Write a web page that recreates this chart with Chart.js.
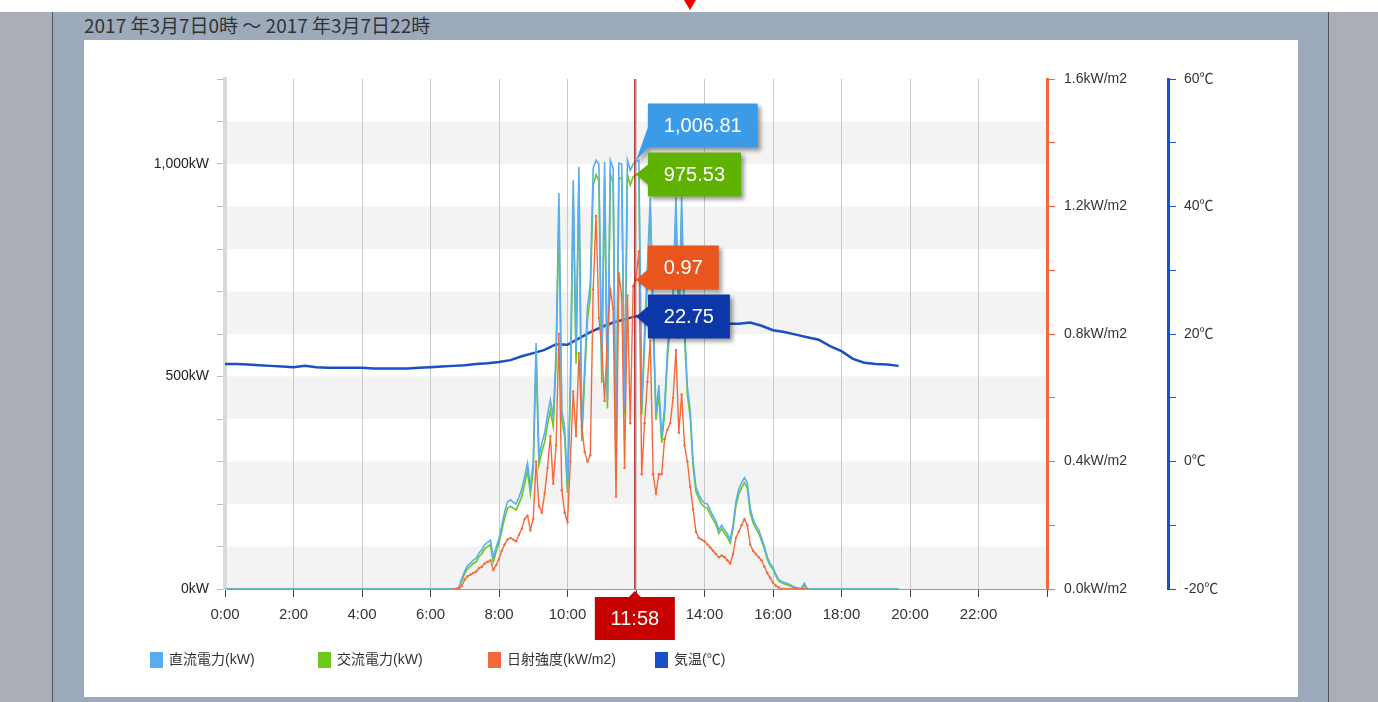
<!DOCTYPE html>
<html>
<head>
<meta charset="utf-8">
<script src="https://cdn.jsdelivr.net/npm/chart.js@4.4.0/dist/chart.umd.min.js"></script>
<style>
  body { margin: 0; width: 1378px; height: 702px; overflow: hidden; background: #fff; position: relative;
         font-family: "Liberation Sans", "Noto Sans CJK JP", sans-serif; }
  #sideL { position: absolute; left: 0; top: 12px; width: 52px; height: 690px; background: #a9aeb7; }
  #frame { position: absolute; left: 52px; top: 12px; width: 1275px; height: 690px; background: #9caabc;
           border-left: 1px solid #555; border-right: 1px solid #555; }
  #sideR { position: absolute; left: 1329px; top: 12px; width: 49px; height: 690px; background: #a9aeb7; }
  #title { position: absolute; left: 84px; top: 12px; height: 26px; line-height: 26px; font-size: 19px; color: #333;
           font-family: "Noto Sans CJK JP", sans-serif; }
  #panel { position: absolute; left: 84px; top: 40px; width: 1214px; height: 657px; background: #fff; }
  #marker { position: absolute; left: 684px; top: 0; width: 0; height: 0;
            border-left: 6px solid transparent; border-right: 6px solid transparent; border-top: 10px solid #e00; }
</style>
</head>
<body>
<div id="sideL"></div>
<div id="frame"></div>
<div id="sideR"></div>
<div id="marker"></div>
<div id="title">2017 年3月7日0時 ～ 2017 年3月7日22時</div>
<div id="panel"><canvas id="mainChart"></canvas></div>
<script>
// power + irradiance: every 5 minutes from 6:40 to 17:00, power is zero at night
const dayStart = "6:40";
const dayStepMin = 5;
const nightSpan = ["0:00", "19:40"];
const nightValue = 0;

const dcPower = [
  0, 0, 5, 25,
  42, 55, 60, 68, 72, 85, 92, 104, 110, 115, 73, 98,
  118, 150, 182, 205, 210, 204, 200, 216, 235, 265, 296, 240,
  300, 579, 311, 343, 367, 410, 445, 405, 560, 932, 420, 381,
  240, 480, 962, 560, 993, 367, 520, 663, 720, 990, 1009, 1000,
  508, 1005, 445, 1009, 990, 273, 1002, 1000, 428, 1009, 985, 1000,
  1006, 1009, 428, 600, 760, 922, 650, 414, 480, 358, 428, 560,
  650, 700, 922, 610, 922, 620, 475, 420, 300, 240, 222, 210,
  202, 200, 185, 172, 160, 139, 150, 139, 130, 115, 150, 205,
  235, 250, 262, 250, 190, 165, 150, 139, 120, 100, 75, 60,
  50, 35, 22, 18, 15, 13, 10, 6, 4, 1, 3, 14,
  0
];
const acPower = [
  0, 0, 3, 20,
  36, 48, 53, 60, 64, 76, 83, 94, 100, 104, 64, 88,
  108, 138, 168, 190, 195, 190, 186, 201, 219, 247, 278, 224,
  282, 545, 292, 323, 346, 387, 420, 382, 530, 880, 396, 360,
  226, 455, 925, 530, 960, 348, 495, 635, 690, 950, 975, 960,
  485, 970, 425, 976, 955, 262, 968, 965, 410, 976, 950, 970,
  975, 978, 410, 575, 730, 890, 625, 398, 460, 344, 410, 538,
  625, 675, 890, 588, 890, 598, 458, 404, 288, 230, 213, 200,
  193, 190, 176, 163, 152, 131, 142, 131, 122, 108, 142, 195,
  224, 238, 250, 238, 180, 156, 142, 131, 113, 94, 70, 55,
  46, 31, 19, 15, 12, 10, 7, 4, 2, 0, 1, 8,
  0
];
const irradiance = [
  0, 0, 0, 0.01,
  0.03, 0.04, 0.045, 0.05, 0.055, 0.065, 0.07, 0.08, 0.085, 0.09, 0.06, 0.075,
  0.095, 0.12, 0.14, 0.155, 0.16, 0.155, 0.15, 0.17, 0.19, 0.22, 0.23, 0.185,
  0.22, 0.40, 0.26, 0.24, 0.30, 0.38, 0.48, 0.33, 0.45, 0.80, 0.31, 0.24,
  0.21, 0.40, 0.62, 0.48, 0.74, 0.51, 0.43, 0.40, 0.42, 0.94, 1.17, 0.85,
  0.76, 0.59, 0.80, 0.94, 0.88, 0.29, 0.99, 0.92, 0.38, 0.92, 0.52, 0.95,
  0.97, 1.06, 0.36, 0.52, 0.65, 0.78, 0.36, 0.30, 0.36, 0.36, 0.47, 0.50,
  0.52, 0.60, 0.75, 0.49, 0.61, 0.45, 0.40, 0.32, 0.25, 0.18, 0.16, 0.155,
  0.15, 0.14, 0.13, 0.12, 0.11, 0.10, 0.105, 0.10, 0.09, 0.08, 0.11, 0.16,
  0.18, 0.20, 0.22, 0.20, 0.14, 0.12, 0.11, 0.10, 0.09, 0.07, 0.05, 0.035,
  0.02, 0.01, 0.005, 0, 0, 0, 0, 0, 0, 0, 0, 0,
  0
];

// temperature: every 20 minutes from 0:00 to 19:40
const tempStart = "0:00";
const tempStepMin = 20;
const temperature = [
  15.3, 15.3, 15.2, 15.1, 15.0, 14.9, 14.8, 15.0, 14.8, 14.7, 14.7, 14.7,
  14.7, 14.6, 14.6, 14.6, 14.6, 14.7, 14.8, 14.9, 15.0, 15.1, 15.3, 15.4,
  15.6, 15.9, 16.5, 17.0, 17.5, 18.4, 18.3, 19.3, 20.3, 21.1, 21.8, 22.3,
  22.8, 22.6, 22.4, 22.2, 22.0, 21.9, 21.8, 21.7, 21.6, 21.6, 21.8, 21.3,
  20.6, 20.3, 19.9, 19.5, 19.1, 18.1, 17.3, 16.1, 15.5, 15.3, 15.2, 15.0
];

const seriesNames = ["直流電力(kW)", "交流電力(kW)", "日射強度(kW/m2)", "気温(℃)"];
const seriesColors = ["#58aef0", "#6cc81a", "#f4693a", "#1b4fc4"];
const calloutColors = ["#3b9be6", "#5fb300", "#e9561d", "#0b37a8"];

const cursorTime = "11:58";
const cursorValues = [1006.81, 975.53, 0.97, 22.75];

function toHours(t) {
  const p = t.split(":").map(Number);
  return p[0] + p[1] / 60;
}

function daySeries(values, withNight) {
  const start = toHours(dayStart);
  const pts = values.map((v, i) => ({ x: start + i * dayStepMin / 60, y: v }));
  if (withNight) {
    pts.unshift({ x: toHours(nightSpan[0]), y: nightValue });
    pts.push({ x: toHours(nightSpan[1]), y: nightValue });
  }
  return pts;
}

const tempPoints = temperature.map((v, i) => ({ x: toHours(tempStart) + i * tempStepMin / 60, y: v }));

Chart.defaults.font.family = '"Liberation Sans", "Noto Sans CJK JP", sans-serif';
Chart.defaults.color = "#333";

const bands = {
  id: "bands",
  beforeDraw(chart) {
    const { ctx, chartArea, scales } = chart;
    ctx.save();
    ctx.fillStyle = "#f3f3f3";
    for (let v = 0; v < 1200; v += 200) {
      const top = scales.y.getPixelForValue(v + 100);
      const bot = scales.y.getPixelForValue(v);
      ctx.fillRect(chartArea.left, top, chartArea.width, bot - top);
    }
    ctx.restore();
  }
};

function fmt(v, i) {
  if (i < 2) return v.toLocaleString("en-US", { minimumFractionDigits: 2, maximumFractionDigits: 2 });
  return v.toFixed(2);
}

const cursor = {
  id: "cursor",
  afterDraw(chart) {
    const { ctx, chartArea, scales } = chart;
    const cx = scales.x.getPixelForValue(toHours(cursorTime));
    ctx.save();
    ctx.strokeStyle = "#b3262a";
    ctx.lineWidth = 1.5;
    ctx.beginPath();
    ctx.moveTo(cx, chartArea.top);
    ctx.lineTo(cx, chartArea.bottom);
    ctx.stroke();

    // time box under the axis
    const ttop = chartArea.bottom + 8;
    ctx.fillStyle = "#c70000";
    ctx.beginPath();
    ctx.moveTo(cx - 40, ttop); ctx.lineTo(cx - 6, ttop); ctx.lineTo(cx, ttop - 6);
    ctx.lineTo(cx + 6, ttop); ctx.lineTo(cx + 40, ttop); ctx.lineTo(cx + 40, ttop + 43);
    ctx.lineTo(cx - 40, ttop + 43); ctx.closePath(); ctx.fill();
    ctx.fillStyle = "#fff";
    ctx.font = '20px "Liberation Sans"';
    ctx.textAlign = "center";
    ctx.textBaseline = "middle";
    ctx.fillText(cursorTime, cx, ttop + 22);

    // value callouts, pushed up so they don't overlap
    const boxes = cursorValues.map((v, i) => {
      const ds = chart.data.datasets[i];
      return { i, vy: scales[ds.yAxisID].getPixelForValue(v), text: fmt(v, i), color: calloutColors[i] };
    });
    const sorted = boxes.slice().sort((a, b) => b.vy - a.vy);
    let limit = Infinity;
    sorted.forEach(b => {
      let top = b.vy - 22;
      if (top + 44 > limit - 5) top = limit - 5 - 44;
      b.top = top;
      limit = top;
    });
    boxes.forEach(b => {
      const w = ctx.measureText(b.text).width + 32;
      const left = cx + 13, right = left + w, top = b.top, bottom = top + 44;
      const a = Math.max(top, Math.min(b.vy - 10, bottom - 20));
      const c = Math.min(bottom, a + 20);
      ctx.save();
      ctx.shadowColor = "rgba(0,0,0,0.4)";
      ctx.shadowBlur = 4;
      ctx.shadowOffsetX = 3;
      ctx.shadowOffsetY = 3;
      ctx.fillStyle = b.color;
      ctx.beginPath();
      ctx.moveTo(left, top); ctx.lineTo(right, top); ctx.lineTo(right, bottom); ctx.lineTo(left, bottom);
      ctx.lineTo(left, c); ctx.lineTo(cx + 1, b.vy); ctx.lineTo(left, a); ctx.closePath();
      ctx.fill();
      ctx.restore();
      ctx.fillStyle = "#fff";
      ctx.fillText(b.text, (left + right) / 2, top + 23);
    });
    ctx.restore();
  }
};

const legendX = [66, 234, 404, 571];
const legend = {
  id: "customLegend",
  afterDraw(chart) {
    const { ctx } = chart;
    ctx.save();
    ctx.font = '14px "Liberation Sans", "Noto Sans CJK JP"';
    ctx.textBaseline = "middle";
    ctx.textAlign = "left";
    chart.data.datasets.forEach((ds, i) => {
      ctx.fillStyle = ds.borderColor;
      ctx.fillRect(legendX[i], 612, 13, 16);
      ctx.fillStyle = "#333";
      ctx.fillText(ds.label, legendX[i] + 19, 620);
    });
    ctx.restore();
  }
};

new Chart("mainChart", {
  type: "line",
  data: {
    datasets: [
      { label: seriesNames[0], data: daySeries(dcPower, true), yAxisID: "y", borderColor: seriesColors[0],
        backgroundColor: seriesColors[0], borderWidth: 1.6, pointRadius: 0, order: 1 },
      { label: seriesNames[1], data: daySeries(acPower, true), yAxisID: "y", borderColor: seriesColors[1],
        backgroundColor: seriesColors[1], borderWidth: 1.6, pointRadius: 0, order: 2 },
      { label: seriesNames[2], data: daySeries(irradiance, false), yAxisID: "yIrr", borderColor: seriesColors[2],
        backgroundColor: seriesColors[2], borderWidth: 1.4, pointRadius: 1.2, pointBorderWidth: 0, order: 0 },
      { label: seriesNames[3], data: tempPoints, yAxisID: "yTemp", borderColor: seriesColors[3],
        backgroundColor: seriesColors[3], borderWidth: 2.5, pointRadius: 0, order: 3 }
    ]
  },
  options: {
    responsive: true,
    maintainAspectRatio: false,
    animation: false,
    layout: { padding: { top: 39, right: 60, bottom: 68, left: 0 } },
    plugins: { legend: { display: false }, tooltip: { enabled: false } },
    elements: { line: { tension: 0 } },
    scales: {
      x: {
        type: "linear", min: 0, max: 24,
        ticks: { stepSize: 2, autoSkip: false, maxRotation: 0, padding: 9, color: "#333", font: { size: 15 },
                 callback: v => (v < 24 ? v + ":00" : "") },
        grid: { color: "#c8c8c8", tickColor: "#444", tickLength: 8 },
        border: { color: "#999" },
        afterFit: s => { s.height = 40; }
      },
      y: {
        position: "left", min: 0, max: 1200,
        ticks: { stepSize: 100, padding: 8, color: "#222", font: { size: 14 },
                 callback: v => (v % 500 === 0 ? v.toLocaleString("en-US") + "kW" : "") },
        grid: { drawOnChartArea: false, color: "#bbb", tickLength: 8 },
        border: { color: "#d9d9d9", width: 4 },
        afterFit: s => { s.width = 141; }
      },
      yIrr: {
        position: "right", weight: 1, min: 0, max: 1.6,
        ticks: { stepSize: 0.2, padding: 9, color: "#333", font: { size: 14 },
                 callback: v => (Math.round(v * 10) % 4 === 0 ? v.toFixed(1) + "kW/m2" : "") },
        grid: { drawOnChartArea: false, color: seriesColors[2], tickLength: 8 },
        border: { color: seriesColors[2], width: 3 },
        afterFit: s => { s.width = 121; }
      },
      yTemp: {
        position: "right", weight: 2, min: -20, max: 60,
        ticks: { stepSize: 10, padding: 8, color: "#333", font: { size: 14 },
                 callback: v => (v % 20 === 0 ? v + "℃" : "") },
        grid: { drawOnChartArea: false, color: seriesColors[3], tickLength: 8 },
        border: { color: seriesColors[3], width: 3 },
        afterFit: s => { s.width = 70; }
      }
    }
  },
  plugins: [bands, cursor, legend]
});
</script>
</body>
</html>
